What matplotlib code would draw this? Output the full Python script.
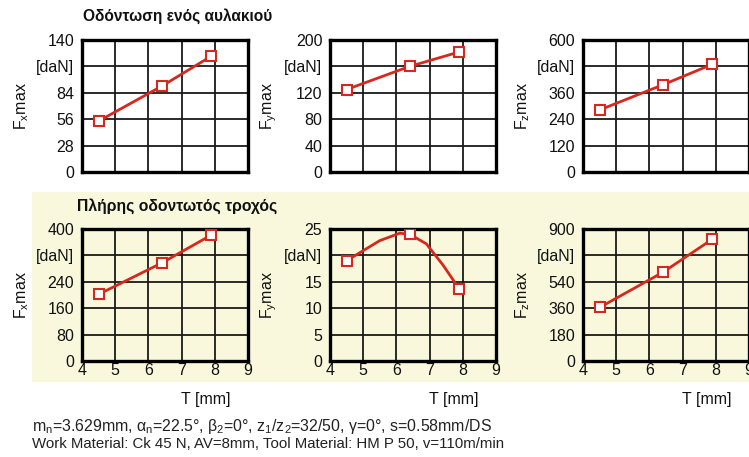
import matplotlib
matplotlib.use("Agg")
import matplotlib.pyplot as plt
from matplotlib.patches import Rectangle

plt.rcParams['font.family'] = ['Liberation Sans', 'DejaVu Sans']

# ---- data -------------------------------------------------------------
T = [4.5, 6.4, 7.9]

# single groove
groove_fx = [54, 91, 123]
groove_fy = [125, 160, 182]
groove_fz = [282, 396, 490]

# full gear
gear_fx = [202, 297, 382]
gear_fy = [19.0, 24.0, 13.6]
gear_fz = [365, 604, 831]

# smoothed path of the full-gear Fy curve
gear_fy_curve_T = [4.5, 5.0, 5.5, 6.1, 6.4, 6.9, 7.4, 7.9]
gear_fy_curve_v = [19.0, 20.9, 22.8, 24.2, 24.0, 22.2, 18.2, 13.6]

yticks_top = [[0, 28, 56, 84, 112, 140],
              [0, 40, 80, 120, 160, 200],
              [0, 120, 240, 360, 480, 600]]
yticks_bot = [[0, 80, 160, 240, 320, 400],
              [0, 5, 10, 15, 20, 25],
              [0, 180, 360, 540, 720, 900]]
xticks = [4, 5, 6, 7, 8, 9]
comp = ['x', 'y', 'z']

title_top = 'Οδόντωση ενός αυλακιού'
title_bot = 'Πλήρης οδοντωτός τροχός'
note1 = (r'm$_\mathregular{n}$=3.629mm, α$_\mathregular{n}$=22.5°, '
         r'β$_\mathregular{2}$=0°, z$_\mathregular{1}$/z$_\mathregular{2}$=32/50, '
         r'γ=0°, s=0.58mm/DS')
note2 = 'Work Material: Ck 45 N, AV=8mm, Tool Material: HM P 50, v=110m/min'

# ---- figure -------------------------------------------------------------
W, H = 749, 457
fig = plt.figure(figsize=(W / 100, H / 100), dpi=100)
fig.patch.set_facecolor('white')

BEIGE = '#FAF8DC'
RED = '#D6281E'

def fx(px):
    return px / W

def fy(py):
    return 1 - py / H

# shaded band behind the full-gear row
band = Rectangle((fx(32), fy(382)), fx(749 - 32), (382 - 192) / H,
                 transform=fig.transFigure, facecolor=BEIGE,
                 edgecolor='none', zorder=-5)
fig.patches.append(band)

lefts = [82, 330, 583]
aw, ah = 166, 132
rows = [(40, yticks_top, [groove_fx, groove_fy, groove_fz], 'white', False),
        (229, yticks_bot, [gear_fx, gear_fy, gear_fz], BEIGE, True)]

for top, ytks, series, face, bottom_row in rows:
    for i, (left, yt, vals) in enumerate(zip(lefts, ytks, series)):
        ax = fig.add_axes([fx(left), fy(top + ah), aw / W, ah / H], zorder=2)
        ax.set_facecolor(face)
        ax.set_xlim(4, 9)
        ax.set_ylim(yt[0], yt[-1])
        ax.set_xticks(xticks)
        ax.set_yticks(yt)
        ylabels = [str(v) for v in yt]
        ylabels[-2] = '[daN]'
        ax.set_yticklabels(ylabels)
        ax.grid(True, color='#1a1a1a', linewidth=1.3)
        ax.set_axisbelow(True)
        for sp in ax.spines.values():
            sp.set_linewidth(2.4)
            sp.set_color('black')
        ax.tick_params(axis='both', length=0, labelsize=11.5, colors='#111111')
        ax.tick_params(axis='y', pad=5.5)
        ax.tick_params(axis='x', pad=1.5)
        if not bottom_row:
            ax.set_xticklabels([])
        else:
            ax.text(0.895, -0.295, 'T [mm]', transform=ax.transAxes,
                    ha='right', va='center', fontsize=11.5, color='#111111')
        ax.set_ylabel(r'F$_\mathregular{%s}$max' % comp[i], fontsize=11.5,
                      color='#111111')
        ax.yaxis.set_label_coords(-0.31, 0.5)

        if bottom_row and i == 1:
            ax.plot(gear_fy_curve_T, gear_fy_curve_v, color=RED, lw=2.0,
                    solid_capstyle='round', zorder=3)
            ax.plot(T, vals, linestyle='none', marker='s', markersize=6.5,
                    markerfacecolor='white', markeredgecolor=RED,
                    markeredgewidth=1.5, zorder=4)
        else:
            ax.plot(T, vals, color=RED, lw=2.0, marker='s', markersize=6.5,
                    markerfacecolor='white', markeredgecolor=RED,
                    markeredgewidth=1.5, zorder=3)

fig.text(fx(83), fy(16), title_top, fontsize=11.2, fontweight='bold',
         ha='left', va='center', color='#111111')
fig.text(fx(77), fy(206), title_bot, fontsize=11.3, fontweight='bold',
         ha='left', va='center', color='#111111', zorder=3)
fig.text(fx(32), fy(427), note1, fontsize=11.4, ha='left', va='center',
         color='#222222')
fig.text(fx(32), fy(444), note2, fontsize=10.8, ha='left', va='center',
         color='#222222')

fig.savefig('out.png', dpi=100, facecolor='white')
